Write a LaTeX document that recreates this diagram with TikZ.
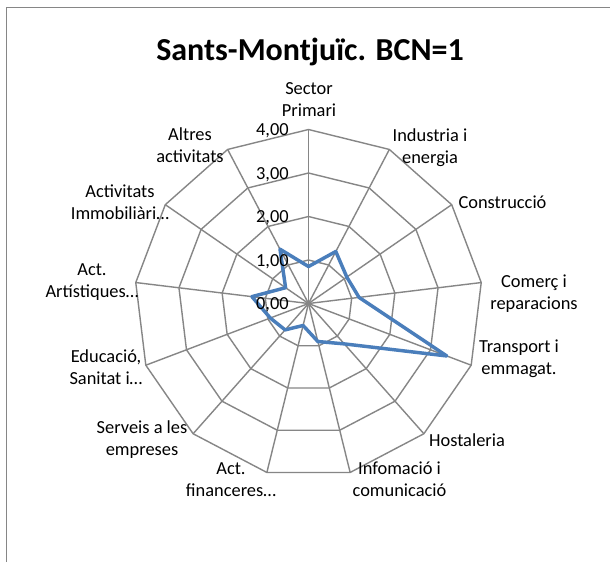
\documentclass[tikz,border=0pt]{standalone}
\usepackage{fontspec}
\setmainfont{Carlito}
\definecolor{gridgray}{HTML}{868686}
\definecolor{seriesblue}{HTML}{4A7EBB}
\begin{document}
\begin{tikzpicture}[x=0.75pt,y=-0.75pt,
  frame/.style={draw=gridgray, line width=1.1pt},
  gridline/.style={draw=gridgray, line width=1.05pt, line join=miter},
  series/.style={draw=seriesblue, line width=2.6pt, line join=round},
  lbl/.style={font=\fontsize{13.8}{16.5}\selectfont, align=center, inner sep=0pt, anchor=center},
  ticklbl/.style={font=\fontsize{13.8}{16.5}\selectfont, inner sep=0pt, anchor=base east},
  titlelbl/.style={font=\fontsize{24}{28}\selectfont\bfseries, inner sep=0pt, anchor=base}]
\useasboundingbox (0,0) rectangle (610,562);
\fill[white] (0,0) rectangle (610,562);
\draw[frame] (6.5,562) -- (6.5,7.5) -- (610,7.5);
\node[titlelbl] (title) at (310,60) {Sants-Montjuïc. BCN=1};
\begin{scope}[shift={(308.5,303.5)}, x=0.75pt, y=0.75pt]
  \coordinate (c) at (0,0);
  \foreach \k in {1,2,3,4} {
    \draw[gridline] (90:{43.5*\k}) \foreach \i in {1,...,12} { -- ({90-\i*360/13}:{43.5*\k}) } -- cycle;
  }
  \foreach \i in {0,...,12} {
    \coordinate (v\i) at ({90-\i*360/13}:174);
    \draw[gridline] (c) -- (v\i);
  }
  \foreach \i/\v in {0/0.85,1/1.35,2/1.07,3/1.17,4/3.40,5/1.24,6/0.90,7/0.52,8/0.81,9/0.94,10/1.31,11/0.64,12/1.41} {
    \coordinate (p\i) at ({90-\i*360/13}:{\v*43.5});
  }
  \draw[series] (p0) -- (p1) -- (p2) -- (p3) -- (p4) -- (p5) -- (p6) -- (p7) -- (p8) -- (p9) -- (p10) -- (p11) -- (p12) -- cycle;
\end{scope}
\node[ticklbl] (t0) at (289,309.5) {0,00};
\node[ticklbl] (t1) at (289,266) {1,00};
\node[ticklbl] (t2) at (289,222.5) {2,00};
\node[ticklbl] (t3) at (289,179) {3,00};
\node[ticklbl] (t4) at (289,135.5) {4,00};
\node[lbl] (l0) at (309,99.5) {Sector\\Primari};
\node[lbl] (l1) at (430,147.5) {Industria i\\energia};
\node[lbl] (l2) at (502.5,202.5) {Construcció};
\node[lbl] (l3) at (534,294) {Comerç i\\reparacions};
\node[lbl] (l4) at (519,359) {Transport i\\emmagat.};
\node[lbl] (l5) at (467,440) {Hostaleria};
\node[lbl] (l6) at (399.5,479.5) {Infomació i\\comunicació};
\node[lbl] (l7) at (231,479.5) {Act.\\financeres…};
\node[lbl] (l8) at (142,440) {Serveis a les\\empreses};
\node[lbl] (l9) at (106,367.5) {Educació,\\Sanitat i…};
\node[lbl] (l10) at (92,282.5) {Act.\\Artístiques…};
\node[lbl] (l11) at (120,202.5) {Activitats\\Immobiliàri…};
\node[lbl] (l12) at (190,145.5) {Altres\\activitats};
\end{tikzpicture}
\end{document}
